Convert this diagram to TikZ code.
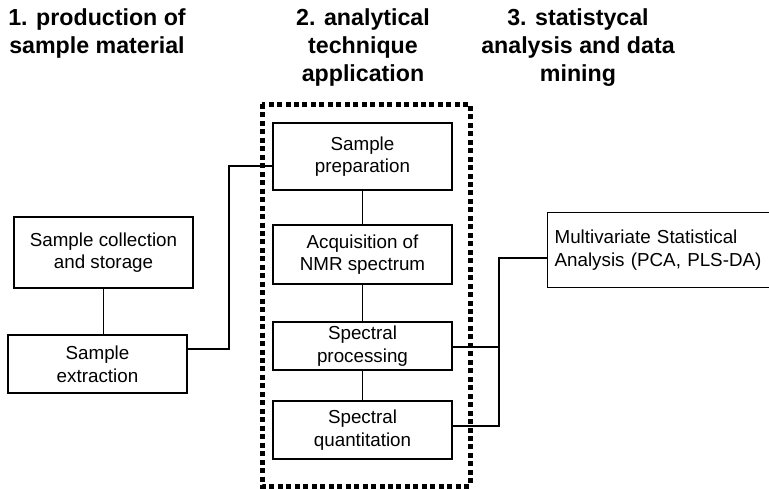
\documentclass[tikz,border=0pt]{standalone}
\usepackage{fontspec}
\setmainfont{Liberation Sans}
\begin{document}
\begin{tikzpicture}[x=0.75pt,y=-0.75pt,
  head/.style={font=\fontsize{17.4pt}{21pt}\selectfont\bfseries, align=center, inner sep=0pt},
  box/.style={draw, line width=0.9pt, minimum width=134.25pt, inner sep=0pt, align=center,
              font=\fontsize{14.1pt}{17pt}\selectfont},
  conn/.style={line width=0.9pt},
  dotbox/.style={line width=3.75pt, dash pattern=on 3.75pt off 2.6pt}]
\useasboundingbox (0,0) rectangle (769,489);

% headings
\node[head] (h1) at (97,34) {1. production of\\sample material};
\node[head] (h2) at (363,48) {2. analytical\\technique\\application};
\node[head] (h3) at (578,48) {3. statistycal\\analysis and data\\mining};

% dotted frame
\draw[dotbox] (262,104) rectangle (470,486);

% left boxes
\node[box, minimum width=134.25pt, minimum height=53.25pt] (coll) at (103.5,252.5) {Sample collection\\and storage};
\node[box, minimum height=43.5pt] (extr) at (97.5,364) {Sample\\extraction};

% central boxes
\node[box, minimum height=50.25pt] (prep) at (362.5,156.5) {Sample\\preparation};
\node[box, minimum height=44.25pt] (acq) at (362.5,254.5) {Acquisition of\\NMR spectrum};
\node[box, minimum height=36pt] (proc) at (362.5,346) {Spectral\\processing};
\node[box, minimum height=43.5pt] (quant) at (362.5,430) {Spectral\\quantitation};

% right box
\node[box, anchor=north west, minimum width=189.75pt, minimum height=56.25pt,
      text width=179.25pt, align=left] (msa) at (547,212)
      {Multivariate Statistical\\Analysis (PCA, PLS-DA)};

% connectors
\coordinate (j1) at (229,349);
\coordinate (j2) at (229,166);
\draw[conn] (coll.south) -- (extr.north -| coll.south);
\draw[conn] (extr.east |- j1) -- (j1) -- (j2) -- (prep.west |- j2);
\draw[conn] (prep) -- (acq);
\draw[conn] (acq) -- (proc);
\draw[conn] (proc) -- (quant);
\coordinate (r1) at (499,347);
\coordinate (r2) at (499,426);
\coordinate (r3) at (499,258);
\draw[conn] (proc.east |- r1) -- (r1);
\draw[conn] (quant.east |- r2) -- (r2) -- (r3) -- (msa.west |- r3);
\end{tikzpicture}
\end{document}
